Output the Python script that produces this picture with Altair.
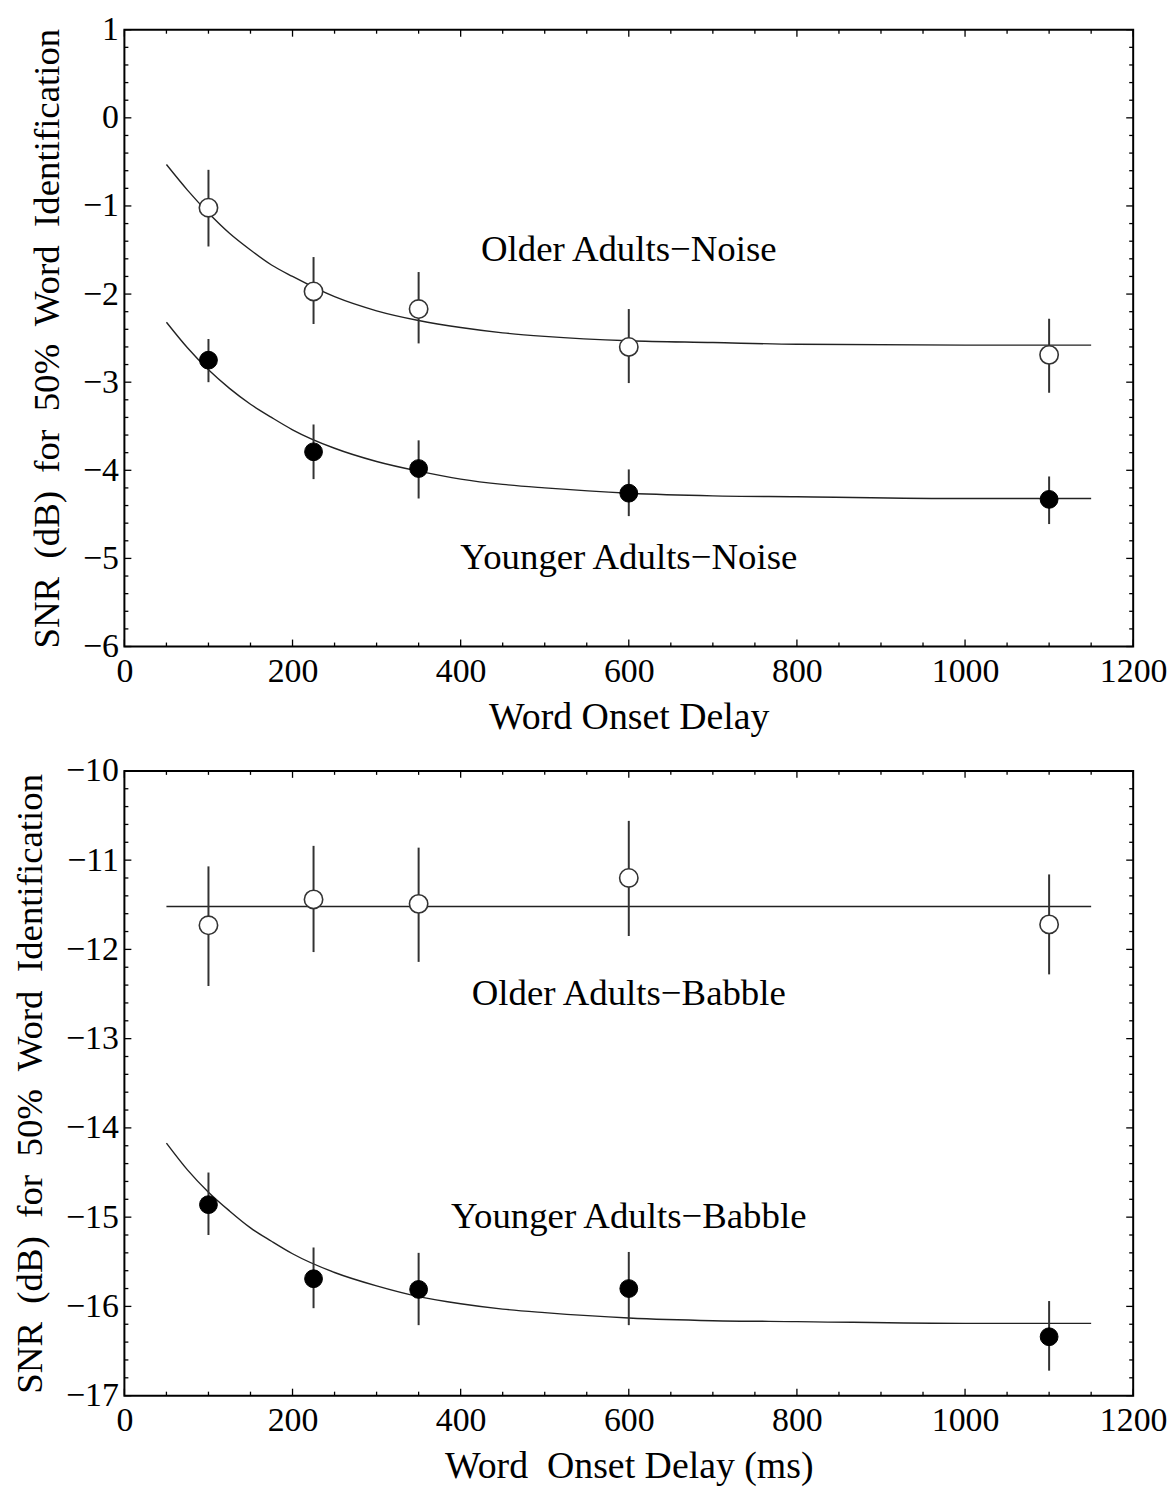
import altair as alt
import pandas as pd

# ---------------- data ----------------
x_delay = [100, 225, 350, 600, 1100]

older_noise_mean = [-1.02, -1.97, -2.17, -2.60, -2.69]
older_noise_hi = [-0.59, -1.58, -1.75, -2.17, -2.28]
older_noise_lo = [-1.46, -2.34, -2.56, -3.01, -3.12]

younger_noise_mean = [-2.75, -3.79, -3.98, -4.26, -4.33]
younger_noise_hi = [-2.51, -3.48, -3.66, -3.99, -4.07]
younger_noise_lo = [-3.00, -4.10, -4.32, -4.52, -4.61]

older_babble_mean = [-11.73, -11.44, -11.49, -11.20, -11.72]
older_babble_hi = [-11.07, -10.84, -10.86, -10.56, -11.16]
older_babble_lo = [-12.41, -12.03, -12.14, -11.85, -12.28]

younger_babble_mean = [-14.86, -15.69, -15.81, -15.80, -16.34]
younger_babble_hi = [-14.50, -15.34, -15.40, -15.39, -15.94]
younger_babble_lo = [-15.20, -16.02, -16.21, -16.21, -16.72]

# fitted curves
curve_x = [50, 75, 100, 125, 150, 175, 200, 250, 300, 350, 400, 450, 500, 600, 700, 800, 1000, 1150]
older_noise_curve = [-0.53, -0.82, -1.08, -1.31, -1.50, -1.67, -1.80, -2.03, -2.19, -2.30, -2.38,
                     -2.44, -2.48, -2.53, -2.55, -2.57, -2.58, -2.58]
younger_noise_curve = [-2.32, -2.61, -2.86, -3.07, -3.25, -3.40, -3.54, -3.75, -3.90, -4.01, -4.10,
                       -4.16, -4.20, -4.26, -4.29, -4.30, -4.32, -4.32]
younger_babble_curve = [-14.17, -14.47, -14.72, -14.93, -15.12, -15.27, -15.41, -15.62, -15.77, -15.89,
                        -15.97, -16.03, -16.07, -16.13, -16.16, -16.17, -16.19, -16.19]
older_babble_line_x = [50, 1150]
older_babble_line = [-11.52, -11.52]

# annotations
top_labels = ["Older Adults\u2212Noise", "Younger Adults\u2212Noise"]
top_label_x = [600, 600]
top_label_y = [-1.5, -5.0]
bot_labels = ["Older Adults\u2212Babble", "Younger Adults\u2212Babble"]
bot_label_x = [600, 600]
bot_label_y = [-12.5, -15.0]

# axes
x_major = [0, 200, 400, 600, 800, 1000, 1200]
x_minor = [v for v in range(50, 1200, 50) if v % 200 != 0]
y_top_major = [1, 0, -1, -2, -3, -4, -5, -6]
y_bot_major = [-10, -11, -12, -13, -14, -15, -16, -17]


def minor_of(major):
    lo, hi = min(major), max(major)
    vals = []
    for k in range(int(lo * 5), int(hi * 5) + 1):
        if k % 5 != 0:
            vals.append(round(k / 5, 2))
    return vals


y_title = "SNR\u00a0 (dB)\u00a0 for\u00a0 50%\u00a0 Word\u00a0 Identification"
FONT = "Liberation Serif"
W = 1014
INK = "#222222"


def panel(groups, curves, labels, lab_x, lab_y, y_major, ydom, H, xtitle):
    xsc = alt.Scale(domain=[0, 1200], nice=False, zero=False)
    ysc = alt.Scale(domain=ydom, nice=False, zero=False)
    xax = alt.Axis(values=x_major, format="d", title=xtitle, labelPadding=8, titlePadding=10,
                   titleFontSize=38, ticks=False, domain=False, grid=False, labelFlush=False,
                   labelOverlap=False)
    yax = alt.Axis(values=y_major, format="d", title=y_title, labelPadding=6, titlePadding=16,
                   titleFontSize=37, ticks=False, domain=False, grid=False, labelFlush=False,
                   labelOverlap=False)

    def X(f):
        return alt.X(f, scale=xsc, axis=xax)

    def Y(f):
        return alt.Y(f, scale=ysc, axis=yax)

    pts_rows = []
    for name, filled, mean, lo, hi in groups:
        for xv, m, l, h in zip(x_delay, mean, lo, hi):
            pts_rows.append({"x": xv, "m": m, "lo": l, "hi": h, "g": name, "filled": filled})
    pts = pd.DataFrame(pts_rows)

    cur_rows = []
    for name, cx, cy in curves:
        for xv, yv in zip(cx, cy):
            cur_rows.append({"x": xv, "y": yv, "g": name})
    cur = pd.DataFrame(cur_rows)

    ann = pd.DataFrame({"x": lab_x, "y": lab_y, "t": labels})

    lines = alt.Chart(cur).mark_line(color=INK, strokeWidth=1.4, interpolate="monotone").encode(
        x=X("x:Q"), y=Y("y:Q"), detail="g:N")

    bars = alt.Chart(pts).mark_rule(color="#333333", strokeWidth=2).encode(
        x=X("x:Q"), y=Y("lo:Q"), y2="hi:Q")

    open_pts = alt.Chart(pts[pts["filled"] == False]).mark_point(
        shape="circle", filled=True, fill="white", stroke="#333333", strokeWidth=1.6, size=340, opacity=1
    ).encode(x=X("x:Q"), y=Y("m:Q"))

    fill_pts = alt.Chart(pts[pts["filled"] == True]).mark_point(
        shape="circle", filled=True, fill="black", stroke="black", strokeWidth=1, size=320, opacity=1
    ).encode(x=X("x:Q"), y=Y("m:Q"))

    text = alt.Chart(ann).mark_text(font=FONT, fontSize=37, color="black", baseline="middle",
                                    align="center").encode(x=X("x:Q"), y=Y("y:Q"), text="t:N")

    # inward tick marks on all four sides
    def xticks(vals, length):
        d = pd.DataFrame({"x": vals})
        b = alt.Chart(d).mark_rule(color="black", strokeWidth=1.3).encode(
            x=X("x:Q"), y=alt.value(H), y2=alt.value(H - length))
        t = alt.Chart(d).mark_rule(color="black", strokeWidth=1.3).encode(
            x=X("x:Q"), y=alt.value(0), y2=alt.value(length))
        return [b, t]

    def yticks(vals, length):
        d = pd.DataFrame({"y": vals})
        l = alt.Chart(d).mark_rule(color="black", strokeWidth=1.3).encode(
            y=Y("y:Q"), x=alt.value(0), x2=alt.value(length))
        r = alt.Chart(d).mark_rule(color="black", strokeWidth=1.3).encode(
            y=Y("y:Q"), x=alt.value(W), x2=alt.value(W - length))
        return [l, r]

    tick_layers = (xticks(x_major, 7) + xticks(x_minor, 4)
                   + yticks(y_major, 7) + yticks(minor_of(y_major), 4))

    return alt.layer(lines, bars, open_pts, fill_pts, text, *tick_layers).properties(width=W, height=H)


top = panel(
    [("older", False, older_noise_mean, older_noise_lo, older_noise_hi),
     ("younger", True, younger_noise_mean, younger_noise_lo, younger_noise_hi)],
    [("older", curve_x, older_noise_curve), ("younger", curve_x, younger_noise_curve)],
    top_labels, top_label_x, top_label_y, y_top_major, [-6, 1], 620, "Word Onset Delay")

bottom = panel(
    [("older", False, older_babble_mean, older_babble_lo, older_babble_hi),
     ("younger", True, younger_babble_mean, younger_babble_lo, younger_babble_hi)],
    [("older", older_babble_line_x, older_babble_line), ("younger", curve_x, younger_babble_curve)],
    bot_labels, bot_label_x, bot_label_y, y_bot_major, [-17, -10], 628, "Word\u00a0 Onset Delay (ms)")

chart = alt.vconcat(top, bottom, spacing=16).properties(
    padding={"left": 2, "top": 0, "right": 0, "bottom": 0},
    background="white",
).configure_view(stroke="black", strokeWidth=2).configure_axis(
    labelFont=FONT, labelFontSize=34, labelColor="black",
    titleFont=FONT, titleFontWeight="normal", titleColor="black",
)

chart.save("out.html", embed_options={"renderer": "svg", "actions": False})
